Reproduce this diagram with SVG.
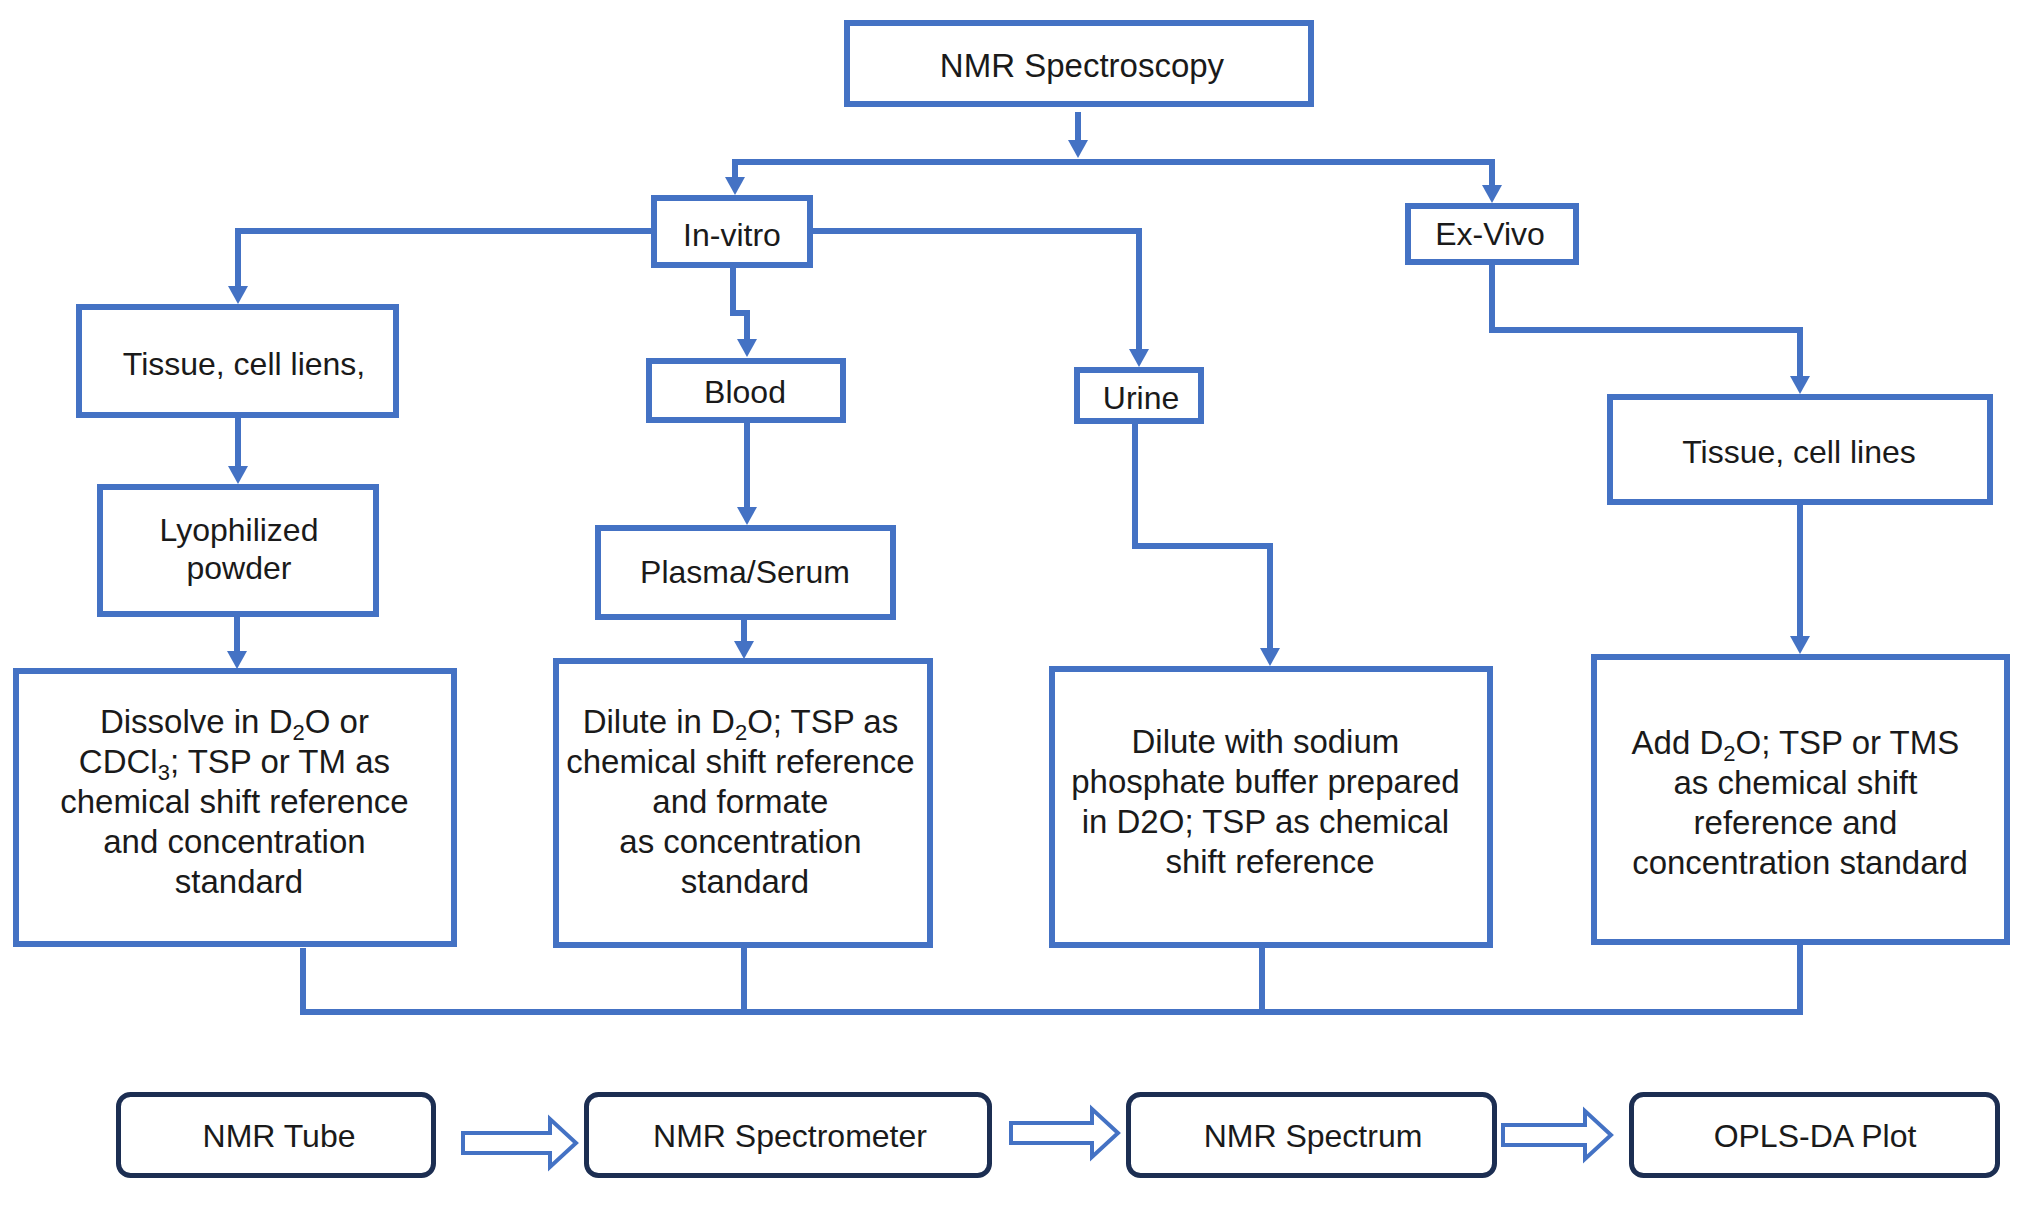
<svg xmlns="http://www.w3.org/2000/svg" width="2032" height="1209" viewBox="0 0 2032 1209">
<defs>
<style>
.box{fill:#ffffff;stroke:#4472C4;stroke-width:6}
.rbox{fill:#ffffff;stroke:#1c2e52;stroke-width:5}
.conn{fill:none;stroke:#4472C4;stroke-width:6}
.harrow{fill:#ffffff;stroke:#4472C4;stroke-width:4;stroke-linejoin:miter}
.t{font-family:"Liberation Sans",Arial,Helvetica,sans-serif;font-size:32px;fill:#1a1a1a;text-anchor:middle}
.sub{font-size:22px}
</style>
<marker id="ah" markerUnits="userSpaceOnUse" viewBox="0 0 18 20" markerWidth="18" markerHeight="20" refX="0" refY="10" orient="auto">
<path d="M0,0 L18,10 L0,20 z" fill="#4472C4"/>
</marker>
</defs>
<rect width="2032" height="1209" fill="#ffffff"/>

<g id="connectors">
<path class="conn" d="M1078,112 V140" marker-end="url(#ah)"/>
<path class="conn" d="M1078,162 H735 V177" marker-end="url(#ah)"/>
<path class="conn" d="M1078,162 H1492 V185" marker-end="url(#ah)"/>
<path class="conn" d="M651,231 H238 V286" marker-end="url(#ah)"/>
<path class="conn" d="M238,418 V466" marker-end="url(#ah)"/>
<path class="conn" d="M237,617 V651" marker-end="url(#ah)"/>
<path class="conn" d="M733,268 V313 H747 V339" marker-end="url(#ah)"/>
<path class="conn" d="M747,422 V507" marker-end="url(#ah)"/>
<path class="conn" d="M744,620 V641" marker-end="url(#ah)"/>
<path class="conn" d="M813,231 H1139 V349" marker-end="url(#ah)"/>
<path class="conn" d="M1135,424 V546 H1270 V648" marker-end="url(#ah)"/>
<path class="conn" d="M1492,265 V330 H1800 V376" marker-end="url(#ah)"/>
<path class="conn" d="M1800,505 V636" marker-end="url(#ah)"/>
<path class="conn" d="M303,948 V1012 H1800 V945"/>
<path class="conn" d="M744,948 V1012"/>
<path class="conn" d="M1262,948 V1012"/>
<polygon class="harrow" points="463,1133 550,1133 550,1119 576,1143 550,1167 550,1153 463,1153"/>
<polygon class="harrow" points="1011,1123 1092,1123 1092,1109 1118,1133 1092,1157 1092,1143 1011,1143"/>
<polygon class="harrow" points="1503,1125 1585,1125 1585,1111 1611,1135 1585,1159 1585,1145 1503,1145"/>
</g>

<g id="nmr-spectroscopy">
<rect class="box" x="847" y="23" width="464" height="81"/>
<text class="t" x="1082" y="77" style="font-size:33px">NMR Spectroscopy</text>
</g>
<g id="in-vitro">
<rect class="box" x="654" y="198" width="156" height="67"/>
<text class="t" x="732" y="246">In-vitro</text>
</g>
<g id="ex-vivo">
<rect class="box" x="1408" y="206" width="168" height="56"/>
<text class="t" x="1490" y="245">Ex-Vivo</text>
</g>
<g id="tissue-cell-liens">
<rect class="box" x="79" y="307" width="317" height="108"/>
<text class="t" x="244" y="375">Tissue, cell liens,</text>
</g>
<g id="lyophilized-powder">
<rect class="box" x="100" y="487" width="276" height="127"/>
<text class="t" x="239" y="541">Lyophilized<tspan x="239" y="579">powder</tspan></text>
</g>
<g id="blood">
<rect class="box" x="649" y="361" width="194" height="59"/>
<text class="t" x="745" y="403">Blood</text>
</g>
<g id="plasma-serum">
<rect class="box" x="598" y="528" width="295" height="89"/>
<text class="t" x="745" y="583">Plasma/Serum</text>
</g>
<g id="urine">
<rect class="box" x="1077" y="370" width="124" height="51"/>
<text class="t" x="1141" y="409">Urine</text>
</g>
<g id="tissue-cell-lines">
<rect class="box" x="1610" y="397" width="380" height="105"/>
<text class="t" x="1799" y="463">Tissue, cell lines</text>
</g>
<g id="dissolve">
<rect class="box" x="16" y="671" width="438" height="273"/>
<text class="t" style="font-size:33px">
<tspan x="239" y="733">Dissolve in D<tspan class="sub" dy="7">2</tspan><tspan dy="-7">O or</tspan></tspan>
<tspan x="239" y="773">CDCl<tspan class="sub" dy="7">3</tspan><tspan dy="-7">; TSP or TM as</tspan></tspan>
<tspan x="239" y="813">chemical shift reference</tspan>
<tspan x="239" y="853">and concentration</tspan>
<tspan x="239" y="893">standard</tspan>
</text>
</g>
<g id="dilute-d2o">
<rect class="box" x="556" y="661" width="374" height="284"/>
<text class="t" style="font-size:33px">
<tspan x="745" y="733">Dilute in D<tspan class="sub" dy="7">2</tspan><tspan dy="-7">O; TSP as</tspan></tspan>
<tspan x="745" y="773">chemical shift reference</tspan>
<tspan x="745" y="813">and formate</tspan>
<tspan x="745" y="853">as concentration</tspan>
<tspan x="745" y="893">standard</tspan>
</text>
</g>
<g id="dilute-sodium">
<rect class="box" x="1052" y="669" width="438" height="276"/>
<text class="t" style="font-size:33px">
<tspan x="1270" y="753">Dilute with sodium</tspan>
<tspan x="1270" y="793">phosphate buffer prepared</tspan>
<tspan x="1270" y="833">in D2O; TSP as chemical</tspan>
<tspan x="1270" y="873">shift reference</tspan>
</text>
</g>
<g id="add-d2o">
<rect class="box" x="1594" y="657" width="413" height="285"/>
<text class="t" style="font-size:33px">
<tspan x="1800" y="754">Add D<tspan class="sub" dy="7">2</tspan><tspan dy="-7">O; TSP or TMS</tspan></tspan>
<tspan x="1800" y="794">as chemical shift</tspan>
<tspan x="1800" y="834">reference and</tspan>
<tspan x="1800" y="874">concentration standard</tspan>
</text>
</g>
<g id="nmr-tube">
<rect class="rbox" x="118.5" y="1094.5" width="315" height="81" rx="12"/>
<text class="t" x="279" y="1147">NMR Tube</text>
</g>
<g id="nmr-spectrometer">
<rect class="rbox" x="586.5" y="1094.5" width="403" height="81" rx="12"/>
<text class="t" x="790" y="1147">NMR Spectrometer</text>
</g>
<g id="nmr-spectrum">
<rect class="rbox" x="1128.5" y="1094.5" width="366" height="81" rx="12"/>
<text class="t" x="1313" y="1147">NMR Spectrum</text>
</g>
<g id="opls-da">
<rect class="rbox" x="1631.5" y="1094.5" width="366" height="81" rx="12"/>
<text class="t" x="1815" y="1147">OPLS-DA Plot</text>
</g>
</svg>
